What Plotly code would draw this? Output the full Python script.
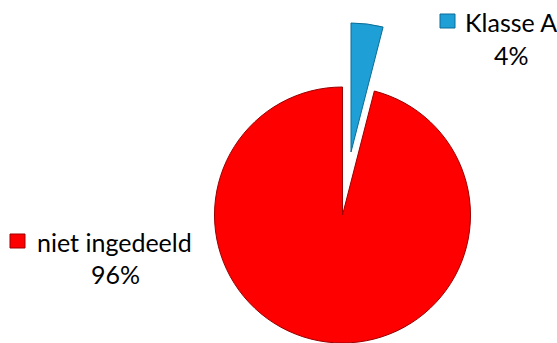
import plotly.graph_objects as go

W, H = 557, 343

categories = ["Klasse A", "niet ingedeeld"]
values = [4, 96]
percent_labels = ["4%", "96%"]
colors = ["#1E9FD6", "#FF0000"]
edge_colors = ["#0B6C96", "#9A0000"]


def px_x(x):
    return x / W


def px_y(y):
    return min(1.0, max(0.0, 1 - y / H))


fig = go.Figure()

# Main pie: only the red slice visible (blue slot left empty)
fig.add_trace(go.Pie(
    labels=categories, values=values, sort=False, direction="clockwise", rotation=0,
    marker=dict(colors=["rgba(0,0,0,0)", colors[1]],
                line=dict(color=["rgba(0,0,0,0)", edge_colors[1]], width=[0, 1])),
    textinfo="none", hoverinfo="label+percent", showlegend=False,
    domain=dict(x=[px_x(213), px_x(472)], y=[px_y(343), px_y(87)]),
))

# Exploded slice: blue slice drawn offset outward
fig.add_trace(go.Pie(
    labels=categories, values=values, sort=False, direction="clockwise", rotation=0,
    marker=dict(colors=[colors[0], "rgba(0,0,0,0)"],
                line=dict(color=[edge_colors[0], "rgba(0,0,0,0)"], width=[1, 0])),
    textinfo="none", hoverinfo="label+percent", showlegend=False,
    domain=dict(x=[px_x(222), px_x(480)], y=[px_y(281), px_y(23)]),
))

font = dict(family="Lato, Open Sans, sans-serif", size=25, color="#000000")

annotations = [
    dict(x=px_x(463), y=px_y(22), text=categories[0], xanchor="left", yanchor="middle"),
    dict(x=px_x(511), y=px_y(55), text=percent_labels[0], xanchor="center", yanchor="middle"),
    dict(x=px_x(35), y=px_y(242), text=categories[1], xanchor="left", yanchor="middle"),
    dict(x=px_x(115), y=px_y(274), text=percent_labels[1], xanchor="center", yanchor="middle"),
]
for a in annotations:
    a.update(xref="paper", yref="paper", showarrow=False, font=font)

shapes = [
    dict(type="rect", x0=px_x(440), x1=px_x(455), y0=px_y(28), y1=px_y(14),
         fillcolor=colors[0], line=dict(color=edge_colors[0], width=1)),
    dict(type="rect", x0=px_x(10), x1=px_x(25), y0=px_y(248), y1=px_y(234),
         fillcolor=colors[1], line=dict(color=edge_colors[1], width=1)),
]
for s in shapes:
    s.update(xref="paper", yref="paper")

fig.update_layout(
    width=W, height=H, margin=dict(l=0, r=0, t=0, b=0),
    paper_bgcolor="white", plot_bgcolor="white",
    annotations=annotations, shapes=shapes,
)

fig.write_html("out.html", config={"displayModeBar": False},
               post_script="document.body.style.margin='0px';")
